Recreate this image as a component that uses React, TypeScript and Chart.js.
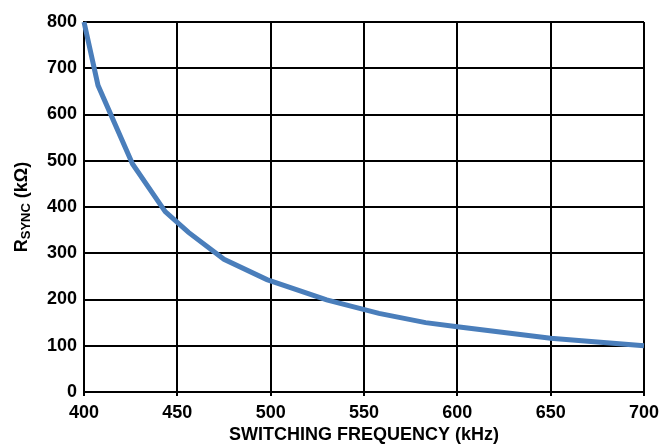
import React, { useEffect, useRef } from "react";
import { Chart, registerables } from "chart.js";

Chart.register(...registerables);

const freqKHz = [400, 407.5, 426, 443.5, 456, 475, 498, 530, 558, 583, 600, 650, 700];
const rsyncKOhm = [800, 663, 493, 390, 345, 287, 243, 199, 170, 150, 141, 116, 100];
const xTitle = "SWITCHING FREQUENCY (kHz)";
const yTitleMain = "R";
const yTitleSub = "SYNC";
const yTitleRest = " (k\u03A9)";

const FONT = '"Liberation Sans", Arial, Helvetica, sans-serif';

const yTitlePlugin = {
  id: "yTitle",
  afterDraw(chart: any) {
    const { ctx, chartArea } = chart;
    const cy = (chartArea.top + chartArea.bottom) / 2;
    ctx.save();
    ctx.fillStyle = "#000";
    ctx.textBaseline = "alphabetic";
    ctx.textAlign = "left";
    const big = `bold 18px ${FONT}`;
    const small = `bold 13px ${FONT}`;
    ctx.font = big;
    const wR = ctx.measureText(yTitleMain).width;
    const wRest = ctx.measureText(yTitleRest).width;
    ctx.font = small;
    const wS = ctx.measureText(yTitleSub).width;
    const total = wR + wS + wRest;
    ctx.translate(26.5, cy);
    ctx.rotate(-Math.PI / 2);
    let x = -total / 2;
    ctx.font = big;
    ctx.fillText(yTitleMain, x, 0);
    x += wR;
    ctx.font = small;
    ctx.fillText(yTitleSub, x, 3);
    x += wS;
    ctx.font = big;
    ctx.fillText(yTitleRest, x, 0);
    ctx.restore();
  },
};

export default function App() {
  const ref = useRef<HTMLCanvasElement | null>(null);
  useEffect(() => {
    if (!ref.current) return;
    const chart = new Chart(ref.current, {
      type: "scatter",
      data: {
        datasets: [
          {
            data: freqKHz.map((f, i) => ({ x: f, y: rsyncKOhm[i] })),
            showLine: true,
            borderColor: "rgb(74,126,187)",
            backgroundColor: "rgb(74,126,187)",
            borderWidth: 5,
            pointRadius: 0,
            tension: 0,
            clip: false as any,
          },
        ],
      },
      options: {
        animation: false,
        responsive: false,
        maintainAspectRatio: false,
        layout: { padding: { left: 0, top: 22, right: 25, bottom: 0 } },
        plugins: { legend: { display: false }, tooltip: { enabled: false } },
        scales: {
          x: {
            type: "linear",
            min: 400,
            max: 700,
            afterFit: (s: any) => {
              s.height = 54;
            },
            ticks: {
              stepSize: 50,
              color: "#000",
              padding: 6,
              maxRotation: 0,
              font: { family: FONT, size: 18, weight: "bold" },
            },
            grid: { color: "#000", lineWidth: 2, tickLength: 4, drawTicks: true },
            border: { color: "#000", width: 2 },
            title: {
              display: true,
              text: xTitle,
              color: "#000",
              padding: { top: 0, bottom: 0 },
              font: { family: FONT, size: 18, weight: "bold" },
            },
          },
          y: {
            min: 0,
            max: 800,
            afterFit: (s: any) => {
              s.width = 84;
            },
            ticks: {
              stepSize: 100,
              color: "#000",
              padding: 7,
              font: { family: FONT, size: 18, weight: "bold" },
            },
            grid: { color: "#000", lineWidth: 2, tickLength: 0, drawTicks: false },
            border: { color: "#000", width: 2 },
          },
        },
      },
      plugins: [yTitlePlugin],
    });
    return () => chart.destroy();
  }, []);
  return (
    <div style={{ position: "absolute", left: 0, top: 0, width: 669, height: 446, background: "#fff" }}>
      <canvas ref={ref} width={669} height={446} style={{ width: 669, height: 446 }} />
    </div>
  );
}
